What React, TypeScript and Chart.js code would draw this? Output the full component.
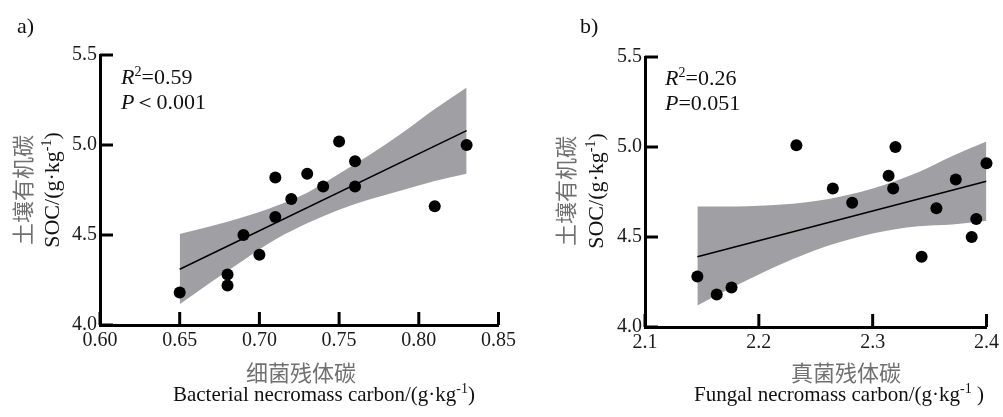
import React, { useEffect, useRef } from 'react';
import { Chart, registerables } from 'chart.js';

Chart.register(...registerables);

// ---- Panel a: bacterial necromass carbon vs SOC ----
const bactX = [0.65, 0.68, 0.68, 0.69, 0.70, 0.71, 0.71, 0.72, 0.73, 0.74, 0.75, 0.76, 0.76, 0.81, 0.83];
const bactSOC = [4.18, 4.28, 4.22, 4.50, 4.39, 4.60, 4.82, 4.70, 4.84, 4.77, 5.02, 4.91, 4.77, 4.66, 5.00];
const bactFitX = [0.65, 0.83];
const bactFitY = [4.31, 5.08];
const bactBandX = [0.65, 0.67, 0.69, 0.71, 0.73, 0.75, 0.77, 0.79, 0.81, 0.83];
const bactBandUpper = [4.505, 4.55, 4.60, 4.66, 4.735, 4.84, 4.95, 5.07, 5.20, 5.32];
const bactBandLower = [4.115, 4.24, 4.36, 4.475, 4.565, 4.64, 4.70, 4.75, 4.80, 4.84];
const bactTicks = [0.60, 0.65, 0.70, 0.75, 0.80, 0.85];

// ---- Panel b: fungal necromass carbon vs SOC ----
const fungX = [2.146, 2.163, 2.176, 2.233, 2.265, 2.282, 2.314, 2.318, 2.320, 2.343, 2.356, 2.373, 2.387, 2.391, 2.400];
const fungSOC = [4.28, 4.18, 4.22, 5.01, 4.77, 4.69, 4.84, 4.77, 5.00, 4.39, 4.66, 4.82, 4.50, 4.60, 4.91];
const fungFitX = [2.146, 2.40];
const fungFitY = [4.39, 4.81];
const fungBandX = [2.146, 2.18, 2.22, 2.26, 2.30, 2.34, 2.37, 2.40];
const fungBandUpper = [4.67, 4.67, 4.68, 4.71, 4.77, 4.86, 4.95, 5.03];
const fungBandLower = [4.12, 4.23, 4.35, 4.45, 4.52, 4.56, 4.57, 4.59];
const fungTicks = [2.1, 2.2, 2.3, 2.4];

const socTicks = [4.0, 4.5, 5.0, 5.5];

const BAND = 'rgb(160,160,164)';
const SERIF = '"Liberation Serif", "Times New Roman", serif';
const CJK = '"Noto Sans CJK SC", sans-serif';
const CN_COLOR = '#707070';

const zip = (xs: number[], ys: number[]) => xs.map((x, i) => ({ x, y: ys[i] }));

type PanelProps = {
  left: number;
  width: number;
  yAxisWidth: number;
  padTop: number;
  padRight: number;
  xAxisHeight: number;
  xs: number[];
  ys: number[];
  fitX: number[];
  fitY: number[];
  bandX: number[];
  bandUp: number[];
  bandLo: number[];
  xTicks: number[];
  xDecimals: number;
};

function ScatterPanel(p: PanelProps) {
  const ref = useRef<HTMLCanvasElement | null>(null);
  useEffect(() => {
    if (!ref.current) return;
    const xT = p.xTicks;
    const yT = socTicks;
    const innerTicks = {
      id: 'innerTicks',
      afterDatasetsDraw(chart: any) {
        const { ctx, chartArea, scales } = chart;
        ctx.save();
        ctx.strokeStyle = '#000';
        ctx.lineWidth = 3;
        ctx.lineCap = 'butt';
        for (const v of xT) {
          const px = scales.x.getPixelForValue(v);
          ctx.beginPath();
          ctx.moveTo(px, chartArea.bottom);
          ctx.lineTo(px, chartArea.bottom - 13);
          ctx.stroke();
        }
        for (const v of yT) {
          const py = scales.y.getPixelForValue(v);
          ctx.beginPath();
          ctx.moveTo(chartArea.left, py);
          ctx.lineTo(chartArea.left + 13, py);
          ctx.stroke();
        }
        ctx.restore();
      },
    };
    const chart = new Chart(ref.current, {
      type: 'scatter',
      data: {
        datasets: [
          {
            type: 'line',
            data: zip(p.bandX, p.bandUp),
            fill: '+1',
            backgroundColor: BAND,
            borderColor: 'rgba(0,0,0,0)',
            borderWidth: 0,
            pointRadius: 0,
            cubicInterpolationMode: 'monotone',
            order: 3,
          } as any,
          {
            type: 'line',
            data: zip(p.bandX, p.bandLo),
            fill: false,
            borderColor: 'rgba(0,0,0,0)',
            borderWidth: 0,
            pointRadius: 0,
            cubicInterpolationMode: 'monotone',
            order: 4,
          } as any,
          {
            type: 'line',
            data: zip(p.fitX, p.fitY),
            fill: false,
            borderColor: '#000',
            borderWidth: 1.5,
            pointRadius: 0,
            order: 2,
          } as any,
          {
            type: 'scatter',
            data: zip(p.xs, p.ys),
            backgroundColor: '#000',
            borderColor: '#000',
            borderWidth: 0,
            pointRadius: 6,
            clip: false,
            order: 1,
          } as any,
        ],
      },
      options: {
        responsive: false,
        animation: false,
        devicePixelRatio: 1,
        events: [],
        layout: { padding: { top: p.padTop, right: p.padRight, left: 0, bottom: 0 } },
        plugins: {
          legend: { display: false },
          tooltip: { enabled: false },
          title: { display: false },
        },
        scales: {
          x: {
            type: 'linear',
            min: p.xTicks[0],
            max: p.xTicks[p.xTicks.length - 1],
            afterFit(s: any) {
              s.height = p.xAxisHeight;
            },
            afterBuildTicks(s: any) {
              s.ticks = xT.map((v) => ({ value: v }));
            },
            grid: { display: false, drawTicks: false },
            border: { display: true, color: '#000', width: 3 },
            ticks: {
              callback: (v: any) => Number(v).toFixed(p.xDecimals),
              font: { family: SERIF, size: 20 },
              color: '#1a1a1a',
              padding: 4,
              maxRotation: 0,
              autoSkip: false,
            },
          },
          y: {
            type: 'linear',
            min: 4.0,
            max: 5.5,
            afterFit(s: any) {
              s.width = p.yAxisWidth;
            },
            afterBuildTicks(s: any) {
              s.ticks = yT.map((v) => ({ value: v }));
            },
            grid: { display: false, drawTicks: false },
            border: { display: true, color: '#000', width: 3 },
            ticks: {
              callback: (v: any) => Number(v).toFixed(1),
              font: { family: SERIF, size: 20 },
              color: '#1a1a1a',
              padding: 3,
              autoSkip: false,
            },
          },
        },
      } as any,
      plugins: [innerTicks],
    });
    return () => chart.destroy();
  }, []);
  return (
    <canvas
      ref={ref}
      width={p.width}
      height={417}
      style={{ position: 'absolute', left: p.left, top: 0, width: p.width, height: 417, display: 'block' }}
    />
  );
}

const abs = (s: React.CSSProperties): React.CSSProperties => ({ position: 'absolute', whiteSpace: 'nowrap', ...s });

function Stat({ left, top, r2, p }: { left: number; top: number; r2: string; p: string }) {
  return (
    <div style={abs({ left, top, fontFamily: SERIF, fontSize: 22, lineHeight: '22px', color: '#111' })}>
      <div>
        <i>R</i>
        <span style={{ fontSize: 14, position: 'relative', top: -8 }}>2</span>={r2}
      </div>
      <div>
        <i>P</i>
        {p}
      </div>
    </div>
  );
}

function YTitle({ cnX, enX, cy }: { cnX: number; enX: number; cy: number }) {
  return (
    <>
      <div
        style={abs({
          left: cnX,
          top: cy,
          transform: 'translate(-50%,-50%) rotate(-90deg)',
          fontFamily: CJK,
          fontSize: 22,
          lineHeight: '22px',
          color: CN_COLOR,
        })}
      >
        土壤有机碳
      </div>
      <div
        style={abs({
          left: enX,
          top: cy,
          transform: 'translate(-50%,-50%) rotate(-90deg)',
          fontFamily: SERIF,
          fontSize: 22,
          lineHeight: '22px',
          color: '#111',
        })}
      >
        SOC/(g·kg<span style={{ fontSize: 14, position: 'relative', top: -8 }}>-1</span>)
      </div>
    </>
  );
}

function XTitle({ cn, en, cnCx, enCx, space }: { cn: string; en: string; cnCx: number; enCx: number; space?: boolean }) {
  return (
    <>
      <div
        style={abs({
          left: cnCx,
          top: 360,
          transform: 'translateX(-50%)',
          fontFamily: CJK,
          fontSize: 22,
          lineHeight: '22px',
          color: CN_COLOR,
        })}
      >
        {cn}
      </div>
      <div
        style={abs({
          left: enCx,
          top: 384,
          transform: 'translateX(-50%)',
          fontFamily: SERIF,
          fontSize: 21,
          lineHeight: '21px',
          color: '#111',
        })}
      >
        {en}/(g·kg<span style={{ fontSize: 14, position: 'relative', top: -8 }}>-1</span>
        {space ? ' ' : ''})
      </div>
    </>
  );
}

export default function App() {
  return (
    <div style={{ position: 'absolute', left: 0, top: 0, width: 1003, height: 417, background: '#fff', overflow: 'hidden' }}>
      <ScatterPanel
        left={0}
        width={520}
        yAxisWidth={100}
        padTop={55}
        padRight={19}
        xAxisHeight={92}
        xs={bactX}
        ys={bactSOC}
        fitX={bactFitX}
        fitY={bactFitY}
        bandX={bactBandX}
        bandUp={bactBandUpper}
        bandLo={bactBandLower}
        xTicks={bactTicks}
        xDecimals={2}
      />
      <ScatterPanel
        left={503}
        width={500}
        yAxisWidth={142}
        padTop={57}
        padRight={16}
        xAxisHeight={90}
        xs={fungX}
        ys={fungSOC}
        fitX={fungFitX}
        fitY={fungFitY}
        bandX={fungBandX}
        bandUp={fungBandUpper}
        bandLo={fungBandLower}
        xTicks={fungTicks}
        xDecimals={1}
      />
      <div style={abs({ left: 17, top: 13, fontFamily: SERIF, fontSize: 22, color: '#111' })}>a)</div>
      <div style={abs({ left: 580, top: 13, fontFamily: SERIF, fontSize: 22, color: '#111' })}>b)</div>
      <Stat left={121} top={66} r2="0.59" p="＜0.001" />
      <Stat left={665} top={67} r2="0.26" p="=0.051" />
      <YTitle cnX={21} enX={53} cy={190} />
      <YTitle cnX={564} enX={597} cy={191} />
      <XTitle cn="细菌残体碳" en="Bacterial necromass carbon" cnCx={301} enCx={324} />
      <XTitle cn="真菌残体碳" en="Fungal necromass carbon" cnCx={846} enCx={839} space />
    </div>
  );
}
